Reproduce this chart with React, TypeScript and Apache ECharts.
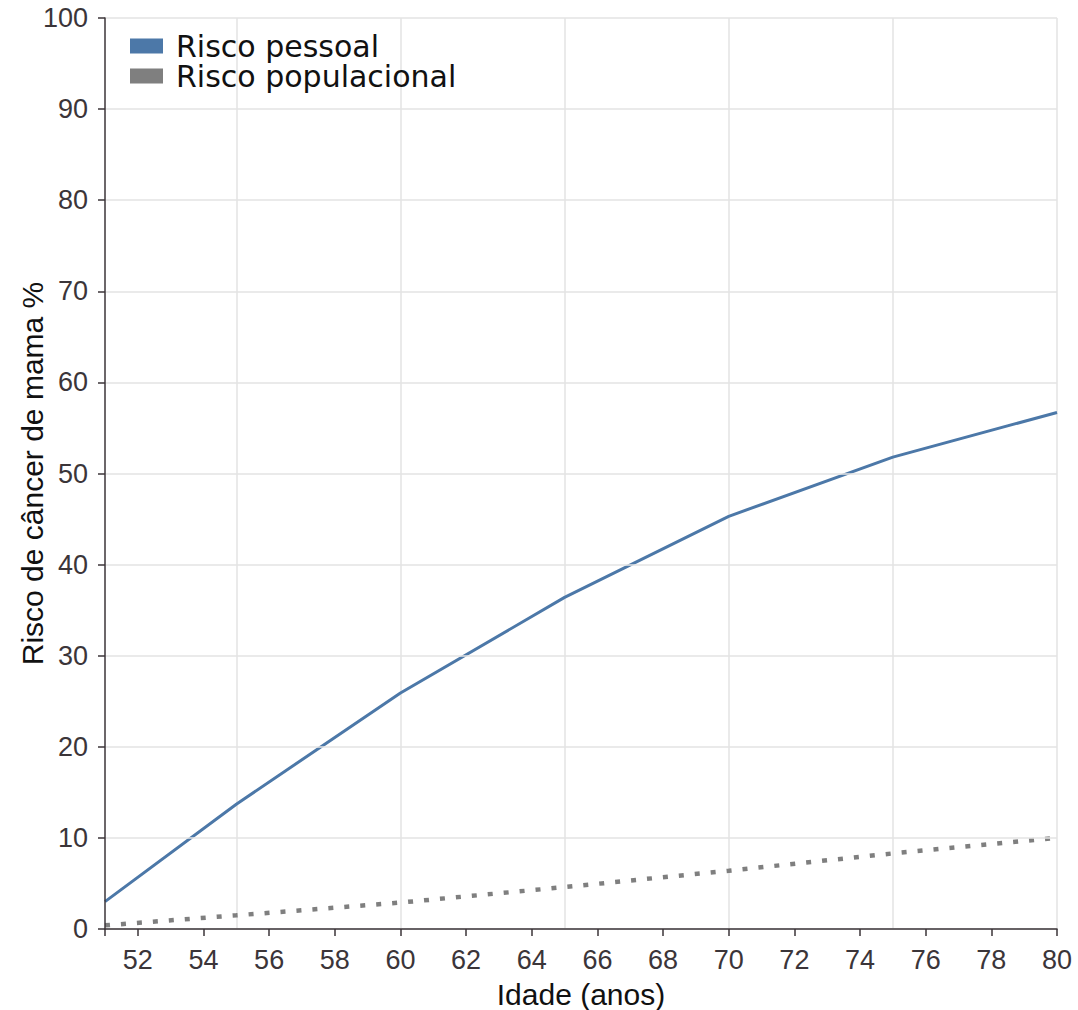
import React, { useEffect, useRef } from "react";
import * as echarts from "echarts";

const ages = [51, 55, 60, 65, 70, 75, 80];
const personalRisk = [3.0, 13.7, 25.9, 36.4, 45.3, 51.8, 56.7];
const populationRisk = [0.4, 1.5, 2.9, 4.6, 6.4, 8.3, 10.0];
const xTickValues = [51, 52, 54, 56, 58, 60, 62, 64, 66, 68, 70, 72, 74, 76, 78, 80];
const xLabelValues = [52, 54, 56, 58, 60, 62, 64, 66, 68, 70, 72, 74, 76, 78, 80];
const xGridValues = [55, 60, 65, 70, 75, 80];
const seriesNames = ["Risco pessoal", "Risco populacional"];

const AXIS_COLOR = "#3b3539";
const GRID_COLOR = "#e3e3e3";
const BLUE = "#4c78a8";
const GRAY = "#7f7f7f";
const FONT = "Liberation Sans, Arial, Helvetica, sans-serif";

export default function App() {
  const ref = useRef<HTMLDivElement>(null);

  useEffect(() => {
    if (!ref.current) return;
    const chart = echarts.init(ref.current, undefined, { renderer: "svg" });
    const option = {
      animation: false,
      backgroundColor: "#ffffff",
      grid: {
        left: 105,
        right: 21,
        top: 18,
        bottom: 81,
        containLabel: false,
        outerBoundsMode: "none",
      },
      legend: {
        orient: "vertical",
        left: 125,
        top: 26,
        itemWidth: 33,
        itemHeight: 15,
        itemGap: 0,
        icon: "rect",
        itemStyle: { borderWidth: 0 },
        lineStyle: { width: 0, type: "solid" },
        textStyle: {
          fontFamily: "DejaVu Sans, sans-serif",
          fontSize: 30,
          color: "#111",
          lineHeight: 28.5,
          padding: [0, 0, 0, 8],
        },
        data: [
          {
            name: seriesNames[0],
            itemStyle: { color: BLUE, borderColor: BLUE, borderWidth: 0, borderType: "solid", opacity: 1 },
            lineStyle: { width: 0, type: "solid" },
          },
          {
            name: seriesNames[1],
            itemStyle: { color: GRAY, borderColor: GRAY, borderWidth: 0, borderType: "solid", opacity: 1 },
            lineStyle: { width: 0, type: "solid" },
          },
        ],
      },
      xAxis: [
        {
          type: "value",
          min: 51,
          max: 80,
          name: "Idade (anos)",
          nameLocation: "middle",
          nameGap: 50,
          nameMoveOverlap: false,
          nameTextStyle: { fontFamily: FONT, fontSize: 30, color: "#111", lineHeight: 30 },
          axisLine: { show: true, lineStyle: { color: AXIS_COLOR, width: 1.5 } },
          axisTick: {
            show: true,
            length: 7,
            customValues: xTickValues,
            lineStyle: { color: AXIS_COLOR, width: 1.5 },
          },
          axisLabel: {
            customValues: xLabelValues,
            fontFamily: FONT,
            fontSize: 27,
            color: AXIS_COLOR,
            margin: 17,
          },
          splitLine: { show: false },
          z: 5,
        },
        {
          type: "value",
          min: 51,
          max: 80,
          position: "bottom",
          axisLine: { show: false },
          axisTick: { show: false, customValues: xGridValues },
          axisLabel: { show: false, customValues: xGridValues },
          splitLine: { show: true, lineStyle: { color: GRID_COLOR, width: 1.5 } },
        },
      ],
      yAxis: {
        type: "value",
        min: 0,
        max: 100,
        interval: 10,
        name: "Risco de câncer de mama %",
        nameLocation: "middle",
        nameGap: 58,
        nameMoveOverlap: false,
        nameTextStyle: { fontFamily: FONT, fontSize: 30, color: "#111", lineHeight: 30 },
        axisLine: { show: true, lineStyle: { color: AXIS_COLOR, width: 1.5 } },
        axisTick: { show: true, length: 7, lineStyle: { color: AXIS_COLOR, width: 1.5 } },
        axisLabel: { fontFamily: FONT, fontSize: 27, color: AXIS_COLOR, margin: 17 },
        splitLine: { show: true, lineStyle: { color: GRID_COLOR, width: 1.5 } },
        z: 5,
      },
      series: [
        {
          name: seriesNames[0],
          type: "line",
          z: 3,
          data: ages.map((a, i) => [a, personalRisk[i]]),
          showSymbol: false,
          symbol: "none",
          lineStyle: { color: BLUE, width: 3 },
          itemStyle: { color: BLUE },
        },
        {
          name: seriesNames[1],
          type: "line",
          z: 3,
          data: ages.map((a, i) => [a, populationRisk[i]]),
          showSymbol: false,
          symbol: "none",
          lineStyle: { color: GRAY, width: 4.5, type: [5, 11] },
          itemStyle: { color: GRAY },
        },
      ],
    };
    chart.setOption(option);
    return () => chart.dispose();
  }, []);

  return (
    <div
      ref={ref}
      style={{ position: "absolute", left: 0, top: 0, width: 1078, height: 1010 }}
    />
  );
}
